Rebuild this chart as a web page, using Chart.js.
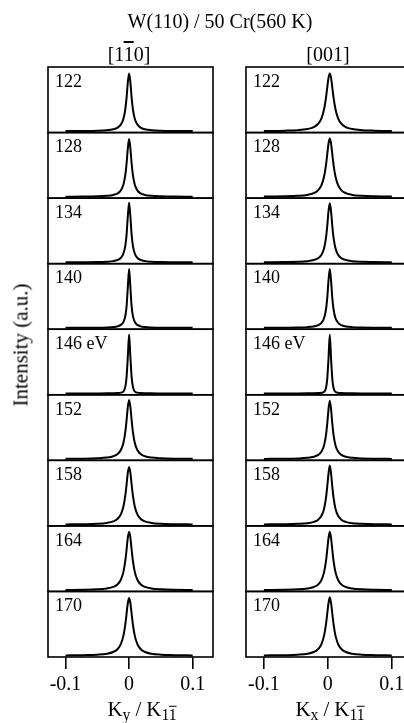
<!DOCTYPE html>
<html>
<head>
<meta charset="utf-8">
<script src="https://cdn.jsdelivr.net/npm/chart.js@4"></script>
<style>
html, body { margin: 0; padding: 0; background: #fff; overflow: hidden; }
#page { position: relative; width: 404px; height: 723px; overflow: hidden; font-family: "Liberation Serif", "Times New Roman", serif; color: #000; }
canvas { position: absolute; top: 0; }
#cLeft { left: 0; }
#cRight { left: 225px; }
.txt { position: absolute; white-space: nowrap; transform: translate(-50%, -50%); line-height: 1; }
.ov { text-decoration: overline; }
.sl { margin: 0 5px; }
sub { font-size: 75%; vertical-align: -0.3em; }
</style>
</head>
<body>
<div id="page">
  <canvas id="cLeft" width="225" height="723"></canvas>
  <canvas id="cRight" width="205" height="723"></canvas>
  <div class="txt" style="left:220px; top:21px; font-size:20px;">W(110) / 50 Cr(560 K)</div>
  <div class="txt" style="left:129px; top:54px; font-size:20px;">[1<span class="ov">1</span>0]</div>
  <div class="txt" style="left:328px; top:54px; font-size:20px;">[001]</div>
  <div class="txt" style="left:21px; top:345px; font-size:21px; transform: translate(-50%, -50%) rotate(-90deg);">Intensity (a.u.)</div>
  <div class="txt" style="left:142px; top:711px; font-size:21px;">K<sub>y</sub><span class="sl">/</span>K<sub>1<span class="ov">1</span></sub></div>
  <div class="txt" style="left:330px; top:711px; font-size:21px;">K<sub>x</sub><span class="sl">/</span>K<sub>1<span class="ov">1</span></sub></div>
</div>
<script>
// photon energies, one panel each (top to bottom)
const ENERGY_LABELS = ['122', '128', '134', '140', '146 eV', '152', '158', '164', '170'];

// x positions of the sampled profile points (K / K_11)
const KX_LEFT = [-0.1, -0.07, -0.05, -0.035, -0.025, -0.018, -0.013, -0.009, -0.006, -0.004, -0.002, 0,
  0.002, 0.004, 0.006, 0.009, 0.013, 0.018, 0.025, 0.035, 0.05, 0.07, 0.1];
const KX_RIGHT = [-0.1, -0.067, -0.047, -0.032, -0.022, -0.015, -0.010, -0.006, -0.003, -0.001, 0.001, 0.003,
  0.005, 0.007, 0.009, 0.012, 0.016, 0.021, 0.028, 0.038, 0.053, 0.073, 0.1];

const X_TICKS = [-0.1, 0, 0.1];
const X_TICK_LABELS = ['-0.1', '0', '0.1'];

// [1-10] direction (panel height = 1)
const L122 = [0.022,0.024,0.028,0.036,0.050,0.076,0.122,0.208,0.355,0.530,0.765,0.900,0.765,0.530,0.355,0.208,0.122,0.076,0.050,0.036,0.028,0.024,0.022];
const L128 = [0.022,0.024,0.028,0.035,0.048,0.072,0.118,0.205,0.350,0.525,0.760,0.900,0.760,0.525,0.350,0.205,0.118,0.072,0.048,0.035,0.028,0.024,0.022];
const L134 = [0.021,0.023,0.025,0.030,0.039,0.057,0.088,0.152,0.271,0.440,0.724,0.930,0.724,0.440,0.271,0.152,0.088,0.057,0.039,0.030,0.025,0.023,0.021];
const L140 = [0.021,0.022,0.023,0.027,0.033,0.044,0.066,0.110,0.200,0.344,0.643,0.920,0.643,0.344,0.200,0.110,0.066,0.044,0.033,0.027,0.023,0.022,0.021];
const L146 = [0.020,0.020,0.021,0.022,0.024,0.027,0.033,0.050,0.120,0.270,0.580,0.920,0.580,0.270,0.120,0.050,0.033,0.027,0.024,0.022,0.021,0.020,0.020];
const L152 = [0.023,0.025,0.031,0.042,0.062,0.097,0.157,0.265,0.431,0.609,0.815,0.920,0.815,0.609,0.431,0.265,0.157,0.097,0.062,0.042,0.031,0.025,0.023];
const L158 = [0.023,0.026,0.032,0.045,0.068,0.108,0.175,0.291,0.460,0.629,0.812,0.900,0.812,0.629,0.460,0.291,0.175,0.108,0.068,0.045,0.032,0.026,0.023];
const L164 = [0.023,0.026,0.033,0.046,0.069,0.110,0.178,0.295,0.465,0.636,0.820,0.910,0.820,0.636,0.465,0.295,0.178,0.110,0.069,0.046,0.033,0.026,0.023];
const L170 = [0.024,0.028,0.035,0.049,0.076,0.122,0.196,0.322,0.495,0.658,0.824,0.900,0.824,0.658,0.495,0.322,0.196,0.122,0.076,0.049,0.035,0.028,0.024];

// [001] direction
const R122 = [0.024,0.029,0.037,0.054,0.084,0.136,0.218,0.352,0.527,0.683,0.834,0.900,0.834,0.683,0.527,0.352,0.218,0.136,0.084,0.054,0.037,0.029,0.024];
const R128 = [0.024,0.028,0.035,0.049,0.076,0.122,0.197,0.325,0.500,0.665,0.832,0.910,0.832,0.665,0.500,0.325,0.197,0.122,0.076,0.049,0.035,0.028,0.024];
const R134 = [0.022,0.025,0.029,0.038,0.055,0.084,0.136,0.232,0.389,0.569,0.796,0.920,0.796,0.569,0.389,0.232,0.136,0.084,0.055,0.038,0.029,0.025,0.022];
const R140 = [0.021,0.023,0.026,0.032,0.043,0.062,0.098,0.168,0.297,0.470,0.740,0.920,0.740,0.470,0.297,0.168,0.098,0.062,0.043,0.032,0.026,0.023,0.021];
const R146 = [0.020,0.020,0.021,0.022,0.023,0.026,0.031,0.045,0.100,0.240,0.550,0.920,0.550,0.240,0.100,0.045,0.031,0.026,0.023,0.022,0.021,0.020,0.020];
const R152 = [0.022,0.025,0.029,0.038,0.054,0.083,0.133,0.228,0.381,0.557,0.779,0.910,0.779,0.557,0.381,0.228,0.133,0.083,0.054,0.038,0.029,0.025,0.022];
const R158 = [0.023,0.025,0.031,0.041,0.061,0.095,0.154,0.259,0.422,0.595,0.797,0.920,0.797,0.595,0.422,0.259,0.154,0.095,0.061,0.041,0.031,0.025,0.023];
const R164 = [0.023,0.026,0.032,0.045,0.068,0.108,0.175,0.291,0.460,0.629,0.812,0.910,0.812,0.629,0.460,0.291,0.175,0.108,0.068,0.045,0.032,0.026,0.023];
const R170 = [0.024,0.028,0.035,0.049,0.076,0.122,0.196,0.322,0.495,0.658,0.824,0.910,0.824,0.658,0.495,0.322,0.196,0.122,0.076,0.049,0.035,0.028,0.024];

const LEFT_SERIES = [L122, L128, L134, L140, L146, L152, L158, L164, L170];
const RIGHT_SERIES = [R122, R128, R134, R140, R146, R152, R158, R164, R170];

// frame around each stacked panel + energy label in its corner
const panelFrames = {
  id: 'panelFrames',
  afterDatasetsDraw(chart) {
    const { ctx, chartArea } = chart;
    ctx.save();
    ctx.strokeStyle = '#000';
    ctx.lineWidth = 1.6;
    ctx.fillStyle = '#000';
    ctx.font = '18px "Liberation Serif"';
    ctx.textBaseline = 'top';
    ENERGY_LABELS.forEach((lab, i) => {
      const s = chart.scales['y' + i];
      ctx.strokeRect(chartArea.left, s.top, chartArea.right - chartArea.left, s.bottom - s.top);
      ctx.fillText(lab, chartArea.left + 7, s.top + 6);
    });
    ctx.restore();
  }
};

function buildColumn(id, xs, series, padding, xmin, xmax) {
  const scales = {
    x: {
      type: 'linear',
      position: 'bottom',
      min: xmin,
      max: xmax,
      afterBuildTicks: s => { s.ticks = X_TICKS.map(v => ({ value: v })); },
      afterFit: s => { s.height = 40; },
      ticks: {
        color: '#000',
        font: { family: 'Liberation Serif', size: 20 },
        padding: 4,
        maxRotation: 0,
        autoSkip: false,
        callback: (v, i) => X_TICK_LABELS[i]
      },
      grid: { display: true, drawOnChartArea: false, drawTicks: true, tickLength: 12, color: '#000', lineWidth: 1.6 },
      border: { display: false }
    }
  };
  // stacked left axes are laid out last-first, so add the bottom panel first
  for (let i = ENERGY_LABELS.length - 1; i >= 0; i--) {
    scales['y' + i] = {
      type: 'linear',
      position: 'left',
      stack: 'col',
      stackWeight: 1,
      min: 0,
      max: 1,
      ticks: { display: false },
      grid: { display: false },
      border: { display: false },
      afterFit: s => { s.width = 0; }
    };
  }

  new Chart(document.getElementById(id), {
    type: 'line',
    data: {
      datasets: series.map((ys, i) => ({
        data: xs.map((x, j) => ({ x: x, y: ys[j] })),
        yAxisID: 'y' + i,
        borderColor: '#000',
        borderWidth: 2,
        pointRadius: 0,
        fill: false,
        cubicInterpolationMode: 'monotone'
      }))
    },
    options: {
      responsive: false,
      animation: false,
      layout: { padding: padding },
      plugins: { legend: { display: false }, tooltip: { enabled: false } },
      scales: scales
    },
    plugins: [panelFrames]
  });
}

buildColumn('cLeft', KX_LEFT, LEFT_SERIES, { left: 48, top: 67, right: 12, bottom: 26 }, -0.1276, 0.132);
buildColumn('cRight', KX_RIGHT, RIGHT_SERIES, { left: 21, top: 67, right: 19, bottom: 26 }, -0.128, 0.13);
</script>
</body>
</html>
